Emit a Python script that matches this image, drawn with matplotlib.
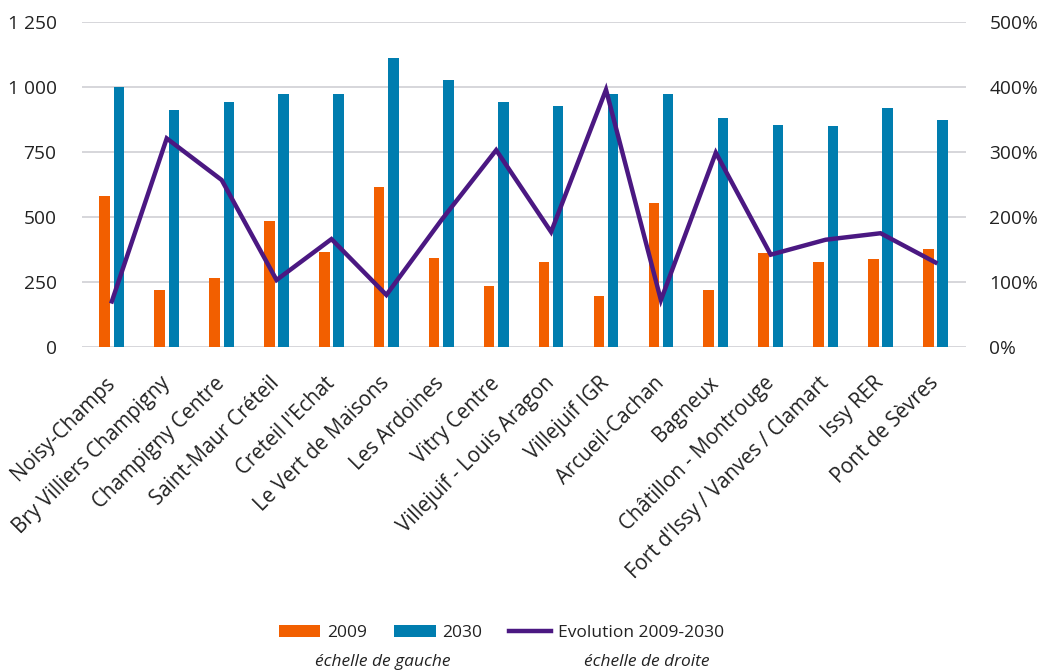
import numpy as np
import matplotlib.pyplot as plt
from matplotlib.ticker import FuncFormatter

# Stations
stations = [
    "Noisy-Champs", "Bry Villiers Champigny", "Champigny Centre",
    "Saint-Maur Créteil", "Creteil l'Echat", "Le Vert de Maisons",
    "Les Ardoines", "Vitry Centre", "Villejuif - Louis Aragon",
    "Villejuif IGR", "Arcueil-Cachan", "Bagneux", "Châtillon - Montrouge",
    "Fort d'Issy / Vanves / Clamart", "Issy RER", "Pont de Sèvres",
]
# Left-scale values
values_2009 = [580, 220, 267, 485, 367, 614, 344, 235, 328, 196, 555, 219, 360, 328, 337, 376]
values_2030 = [1000, 910, 942, 975, 975, 1113, 1027, 942, 927, 973, 973, 880, 856, 849, 918, 873]
# Right-scale values (%)
evolution = [70, 321, 257, 103, 166, 80, 195, 303, 177, 396, 72, 299, 142, 165, 175, 130]

ORANGE = "#F25F00"
BLUE = "#007DAF"
PURPLE = "#4B1882"
GRID = "#D0D0D4"
TEXT = "#222222"

plt.rcParams['font.family'] = ['Open Sans', 'DejaVu Sans']

fig = plt.figure(figsize=(10.6, 6.71), dpi=100)
ax = fig.add_axes([0.077, 0.483, 0.834, 0.484])
ax2 = ax.twinx()

x = np.arange(len(stations))
w = 0.19
ax.bar(x - 0.13, values_2009, width=w, color=ORANGE, label="2009", zorder=2)
ax.bar(x + 0.13, values_2030, width=w, color=BLUE, label="2030", zorder=2)
ax2.plot(x, evolution, color=PURPLE, linewidth=3.2, label="Evolution 2009-2030",
         solid_joinstyle='miter')

ax.set_xlim(-0.55, len(stations) - 0.45)
ax.set_ylim(0, 1250)
ax2.set_ylim(0, 500)
ax.set_yticks(range(0, 1251, 250))
ax2.set_yticks(range(0, 501, 100))
ax.yaxis.set_major_formatter(FuncFormatter(lambda v, p: f"{int(v):,}".replace(",", " ")))
ax2.yaxis.set_major_formatter(FuncFormatter(lambda v, p: f"{int(v)}%"))

ax.grid(axis='y', color=GRID, linewidth=1.2, zorder=0)
ax.set_axisbelow(True)
for a in (ax, ax2):
    for s in a.spines.values():
        s.set_visible(False)
    a.tick_params(length=0, labelsize=13.8, colors=TEXT)
ax.tick_params(axis='y', pad=18)
ax2.tick_params(axis='y', pad=17)

ax.set_xticks(x)
ax.set_xticklabels(stations, rotation=45, ha='right', va='center',
                   rotation_mode='anchor', fontsize=14.8, color=TEXT)
ax.tick_params(axis='x', pad=24)

handles = ax.get_legend_handles_labels()[0] + ax2.get_legend_handles_labels()[0]
labels = ["2009", "2030", "Evolution 2009-2030"]
fig.legend(handles, labels, loc='center', bbox_to_anchor=(0.473, 0.057), ncol=3,
           frameon=False, fontsize=12.5, handlelength=2.4, handleheight=0.75,
           columnspacing=1.55, handletextpad=0.4, labelcolor=TEXT)
fig.text(0.361, 0.014, "échelle de gauche", style='italic', fontsize=12.5,
         ha='center', va='center', color=TEXT)
fig.text(0.610, 0.014, "échelle de droite", style='italic', fontsize=12.5,
         ha='center', va='center', color=TEXT)

fig.savefig("out.png", dpi=100)
